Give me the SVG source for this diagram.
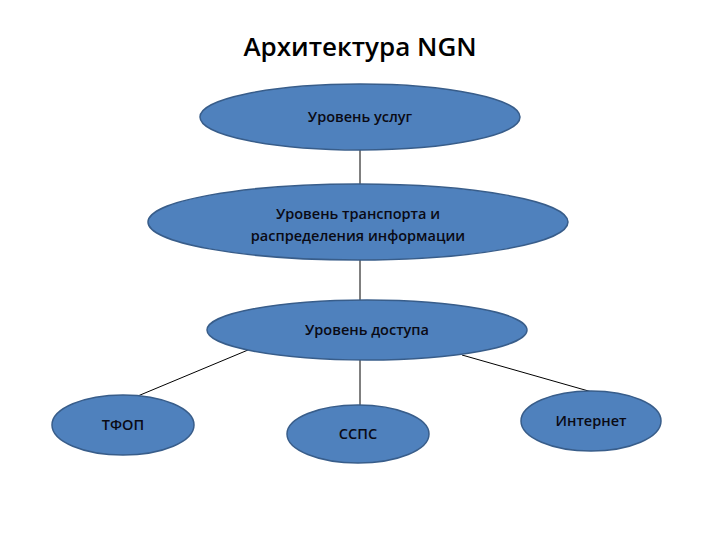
<svg xmlns="http://www.w3.org/2000/svg" width="720" height="540" viewBox="0 0 720 540">
<style>
.n{fill:#4F81BD;stroke:#385D8A;stroke-width:1.5}
.t{font-family:"Open Sans","Liberation Sans",sans-serif;font-size:14.5px;font-weight:600;fill:#0a0a14;text-anchor:middle}
.c{stroke:#000;stroke-width:1;fill:none}
.title{font-family:"Open Sans","Liberation Sans",sans-serif;font-size:26px;font-weight:600;fill:#000;text-anchor:middle}
</style>
<rect width="720" height="540" fill="#fff"/>
<text class="title" x="360" y="56">Архитектура NGN</text>
<g id="connectors">
<line class="c" x1="360" y1="150" x2="360" y2="185"/>
<line class="c" x1="360" y1="260" x2="360" y2="300"/>
<line class="c" x1="248" y1="350" x2="133" y2="398"/>
<line class="c" x1="360" y1="360" x2="360" y2="405"/>
<line class="c" x1="462" y1="355" x2="592" y2="392"/>
</g>
<g id="services"><ellipse class="n" cx="360" cy="117" rx="160" ry="33"/><text class="t" x="360" y="122">Уровень услуг</text></g>
<g id="transport"><ellipse class="n" cx="358" cy="222" rx="210" ry="38"/><text class="t" x="358" y="219">Уровень транспорта и</text><text class="t" x="358" y="241">распределения информации</text></g>
<g id="access"><ellipse class="n" cx="367" cy="330" rx="160" ry="30"/><text class="t" x="367" y="335">Уровень доступа</text></g>
<g id="tfop"><ellipse class="n" cx="123" cy="425" rx="71" ry="30"/><text class="t" x="123" y="430">ТФОП</text></g>
<g id="ssps"><ellipse class="n" cx="358" cy="434" rx="71" ry="29"/><text class="t" x="358" y="439">ССПС</text></g>
<g id="internet"><ellipse class="n" cx="591" cy="421" rx="70" ry="30"/><text class="t" x="591" y="426">Интернет</text></g>
</svg>
